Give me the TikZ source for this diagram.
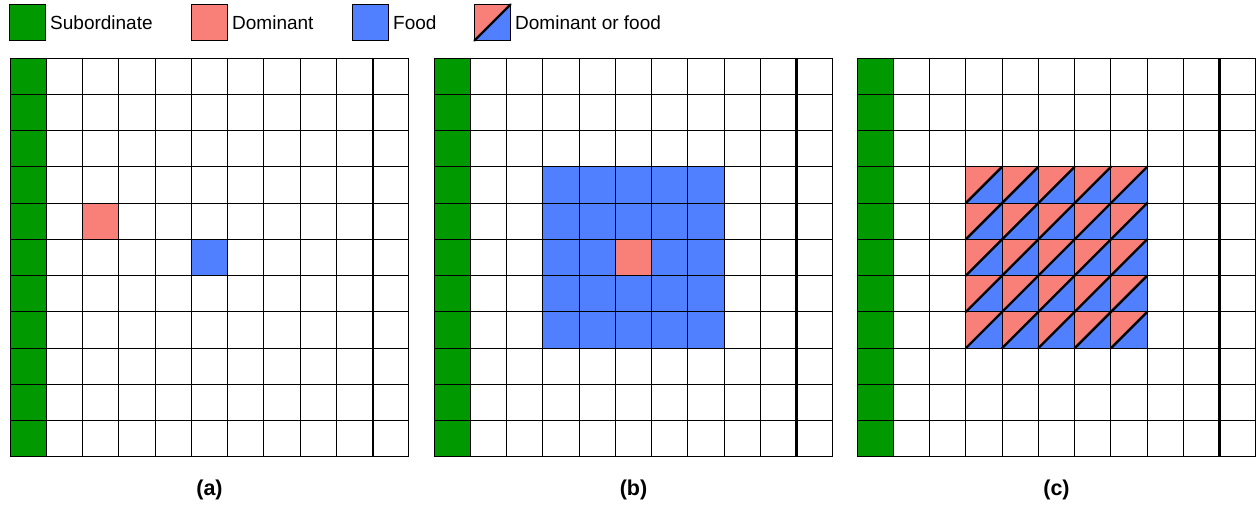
\documentclass[tikz,border=0pt]{standalone}
\usepackage{fontspec}
\setmainfont{Liberation Sans}
\definecolor{subgreen}{HTML}{009900}
\definecolor{domred}{HTML}{F88078}
\definecolor{foodblue}{HTML}{5080FF}
\tikzset{
  gridline/.style={draw=black, line width=1pt},
  legbox/.style={draw=black, line width=1pt},
  legtext/.style={anchor=west, inner sep=0pt, font=\fontsize{19}{21}\selectfont},
  captext/.style={inner sep=0pt, font=\fontsize{21.5}{24}\selectfont\bfseries},
  diagline/.style={draw=black, line width=2.4pt, line cap=round}
}
\def\cs{36.27}
\begin{document}
\begin{tikzpicture}[x=1pt,y=-1pt]
\useasboundingbox (0,0) rectangle (1257,504);
% legend
\filldraw[fill=subgreen, legbox] (9.5,4.5) rectangle (45.5,40.5);
\node[legtext] (lsub) at (50,22.5) {Subordinate};
\filldraw[fill=domred, legbox] (191.5,4.5) rectangle (227.5,40.5);
\node[legtext] (ldom) at (232,22.5) {Dominant};
\filldraw[fill=foodblue, legbox] (352.5,4.5) rectangle (388.5,40.5);
\node[legtext] (lfood) at (393,22.5) {Food};
\fill[domred] (474.5,4.5) -- (510.5,4.5) -- (474.5,40.5) -- cycle;
\fill[foodblue] (510.5,4.5) -- (510.5,40.5) -- (474.5,40.5) -- cycle;
\draw[legbox] (474.5,4.5) rectangle (510.5,40.5);
\draw[diagline] (474.5,40.5) -- (510.5,4.5);
\node[legtext] (ldf) at (515,22.5) {Dominant or food};
% green columns
\foreach \ox in {10,434,857} {
  \fill[subgreen] (\ox,58) rectangle ({\ox+\cs},{58+11*\cs});
}
% grid (a)
\fill[domred] ({10+2*\cs},{58+4*\cs}) rectangle ({10+3*\cs},{58+5*\cs});
\fill[foodblue] ({10+5*\cs},{58+5*\cs}) rectangle ({10+6*\cs},{58+6*\cs});
% grid (b)
\fill[foodblue] ({434+3*\cs},{58+3*\cs}) rectangle ({434+8*\cs},{58+8*\cs});
\fill[domred] ({434+5*\cs},{58+5*\cs}) rectangle ({434+6*\cs},{58+6*\cs});
% grid (c)
\foreach \i in {3,...,7} {
  \foreach \j in {3,...,7} {
    \fill[domred] ({857+\i*\cs},{58+\j*\cs}) -- ({857+(\i+1)*\cs},{58+\j*\cs}) -- ({857+\i*\cs},{58+(\j+1)*\cs}) -- cycle;
    \fill[foodblue] ({857+(\i+1)*\cs},{58+\j*\cs}) -- ({857+(\i+1)*\cs},{58+(\j+1)*\cs}) -- ({857+\i*\cs},{58+(\j+1)*\cs}) -- cycle;
  }
}
% grid lines
\foreach \ox in {10,434,857} {
  \foreach \k in {0,...,11} {
    \draw[gridline] ({\ox+\k*\cs},58) -- ({\ox+\k*\cs},{58+11*\cs});
    \draw[gridline] (\ox,{58+\k*\cs}) -- ({\ox+11*\cs},{58+\k*\cs});
  }
}
% thick lines
\draw[line width=2pt] ({10+10*\cs},58) -- ({10+10*\cs},{58+11*\cs});
\draw[line width=2.6pt] ({434+10*\cs},58) -- ({434+10*\cs},{58+11*\cs});
\draw[line width=2.6pt] ({857+10*\cs},58) -- ({857+10*\cs},{58+11*\cs});
% diagonals in (c)
\foreach \i in {3,...,7} {
  \foreach \j in {3,...,7} {
    \draw[diagline] ({857+\i*\cs},{58+(\j+1)*\cs}) -- ({857+(\i+1)*\cs},{58+\j*\cs});
  }
}
% captions
\node[captext] (capa) at ({10+5.5*\cs},490) {(a)};
\node[captext] (capb) at ({434+5.5*\cs},490) {(b)};
\node[captext] (capc) at ({857+5.5*\cs},490) {(c)};
\end{tikzpicture}
\end{document}
